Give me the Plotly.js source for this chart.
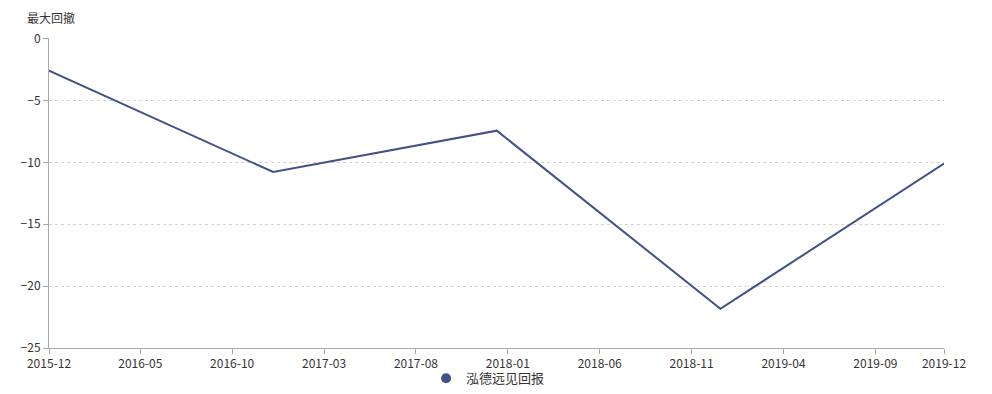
<!DOCTYPE html>
<html>
<head>
<meta charset="utf-8">
<script src="https://cdn.plot.ly/plotly-3.0.1.min.js"></script>
<style>html,body{margin:0;padding:0;background:#fff;}#chart{width:992px;height:394px;}</style>
</head>
<body>
<div id="chart"></div>
<script>
const seriesName = '泓德远见回报';
const dates = ['2015-12-31', '2016-12-31', '2017-12-31', '2018-12-31', '2019-12-31'];
const drawdown = [-2.58, -10.78, -7.44, -21.83, -10.1];
const tickDates = ['2015-12-31', '2016-05-28', '2016-10-25', '2017-03-24', '2017-08-21', '2018-01-18', '2018-06-17', '2018-11-14', '2019-04-13', '2019-09-10', '2019-12-31'];
const tickLabels = ['2015-12', '2016-05', '2016-10', '2017-03', '2017-08', '2018-01', '2018-06', '2018-11', '2019-04', '2019-09', '2019-12'];
const yTitle = '最大回撤';

const lineColor = '#425186';
const font = '"Noto Sans CJK SC", "Noto Sans", sans-serif';

const traces = [
  {x: dates, y: drawdown, type: 'scatter', mode: 'lines', name: seriesName,
   line: {color: lineColor, width: 2}, showlegend: false, hoverinfo: 'x+y'},
  {x: [null], y: [null], type: 'scatter', mode: 'markers', name: seriesName,
   marker: {color: lineColor, size: 10, symbol: 'circle'}, showlegend: true}
];

const layout = {
  width: 992, height: 394,
  margin: {l: 49, r: 48, t: 38, b: 46, autoexpand: false},
  paper_bgcolor: '#fff', plot_bgcolor: '#fff',
  font: {family: font, size: 12, color: '#333'},
  xaxis: {
    type: 'date', range: [dates[0], dates[dates.length - 1]],
    tickmode: 'array', tickvals: tickDates, ticktext: tickLabels,
    showgrid: false, zeroline: false, automargin: false,
    showline: true, linecolor: '#aaa', linewidth: 1,
    ticks: 'outside', ticklen: 5, tickcolor: '#aaa',
    tickfont: {family: font, size: 12, color: '#333'}
  },
  yaxis: {
    range: [-25, 0.05], dtick: 5, tick0: 0,
    showgrid: true, gridcolor: '#d4d4d4', griddash: '3px,3px', gridwidth: 1,
    zeroline: false, automargin: false,
    showline: true, linecolor: '#aaa', linewidth: 1,
    ticks: 'outside', ticklen: 5, tickcolor: '#aaa',
    tickfont: {family: font, size: 12, color: '#333'}
  },
  showlegend: true,
  legend: {orientation: 'h', xref: 'container', yref: 'container',
           x: 0.492, xanchor: 'center', y: 0.04, yanchor: 'middle',
           bgcolor: 'rgba(0,0,0,0)', borderwidth: 0,
           font: {family: font, size: 13, color: '#333'}, itemwidth: 30},
  annotations: [{
    text: yTitle, xref: 'paper', yref: 'paper', x: 0, y: 1, xshift: -24, yshift: 21,
    xanchor: 'left', yanchor: 'middle', showarrow: false,
    font: {family: font, size: 12, color: '#333'}
  }]
};

Plotly.newPlot('chart', traces, layout, {displayModeBar: false, staticPlot: true});
</script>
</body>
</html>
